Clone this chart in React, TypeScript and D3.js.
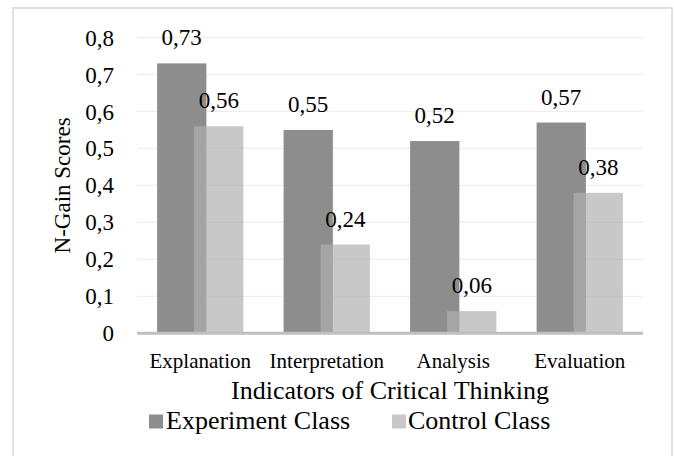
import * as d3 from 'd3';

const categories = ['Explanation', 'Interpretation', 'Analysis', 'Evaluation'];
const experimentValues = [0.73, 0.55, 0.52, 0.57];
const controlValues = [0.56, 0.24, 0.06, 0.38];
const yTicks = [0, 0.1, 0.2, 0.3, 0.4, 0.5, 0.6, 0.7, 0.8];
const yTickLabels = ['0', '0,1', '0,2', '0,3', '0,4', '0,5', '0,6', '0,7', '0,8'];
const seriesNames = ['Experiment Class', 'Control Class'];

const W = 674;
const H = 456;
const FONT = "'Liberation Serif', 'Times New Roman', serif";
const DARK = '#8d8d8d';
const LIGHT = '#afafaf';
const LIGHT_OPACITY = 0.69;

const fmt = (v: number) => v.toFixed(2).replace('.', ',');

export default function App() {
  const plot = { left: 137, right: 643, top: 37.5, bottom: 333.3 };

  const x = d3.scaleBand<string>()
    .domain(categories)
    .range([plot.left, plot.right])
    .paddingInner(0.318)
    .paddingOuter(0.159);

  const y = d3.scaleLinear().domain([0, 0.8]).range([plot.bottom, plot.top]);

  // two bars per group, overlapping a bit (Excel overlap)
  const barW = x.bandwidth() * 0.571;
  const shift = x.bandwidth() - barW;

  const plotMid = (plot.left + plot.right) / 2;

  return (
    <svg
      width={W}
      height={H}
      style={{ position: 'absolute', left: 0, top: 0, background: '#fff' }}
      fontFamily={FONT}
    >
      <rect x={0} y={0} width={W} height={H} fill="#fff" />
      {/* chart frame, bottom edge is off the picture */}
      <path d={`M13,${H + 5} V8 H672 V${H + 5}`} fill="none" stroke="#d9d9d9" strokeWidth={1.5} />

      {/* gridlines */}
      {yTicks.slice(1).map(t => (
        <line key={t} x1={plot.left} x2={plot.right} y1={y(t)} y2={y(t)} stroke="#efefef" strokeWidth={1.3} />
      ))}

      {/* tick labels */}
      {yTicks.map((t, i) => (
        <text key={t} x={114} y={y(t)} dy="0.35em" textAnchor="end" fontSize={23} fill="#000">
          {yTickLabels[i]}
        </text>
      ))}

      {/* bars */}
      {categories.map((c, i) => {
        const x0 = x(c)!;
        return (
          <g key={c}>
            <rect x={x0} y={y(experimentValues[i])} width={barW} height={y(0) - y(experimentValues[i])} fill={DARK} />
            <rect x={x0 + shift} y={y(controlValues[i])} width={barW} height={y(0) - y(controlValues[i])} fill={LIGHT} fillOpacity={LIGHT_OPACITY} />
          </g>
        );
      })}

      {/* baseline */}
      <line x1={plot.left} x2={plot.right} y1={y(0)} y2={y(0)} stroke="#bfbfbf" strokeWidth={3} />

      {/* data labels */}
      {categories.map((c, i) => {
        const x0 = x(c)!;
        return (
          <g key={c} fontSize={23} textAnchor="middle" fill="#000">
            <text x={x0 + barW / 2} y={y(experimentValues[i]) - 18}>{fmt(experimentValues[i])}</text>
            <text x={x0 + shift + barW / 2} y={y(controlValues[i]) - 18}>{fmt(controlValues[i])}</text>
          </g>
        );
      })}

      {/* category labels */}
      {categories.map(c => (
        <text key={c} x={x(c)! + x.bandwidth() / 2} y={368} textAnchor="middle" fontSize={21} fill="#000">
          {c}
        </text>
      ))}

      {/* axis titles */}
      <text x={plotMid} y={399} textAnchor="middle" fontSize={26} fill="#000">
        Indicators of Critical Thinking
      </text>
      <text transform={`translate(70,${(plot.top + plot.bottom) / 2}) rotate(-90)`} textAnchor="middle" fontSize={23} fill="#000">
        N-Gain Scores
      </text>

      {/* legend */}
      <g fontSize={26} fill="#000">
        <rect x={149} y={414.5} width={14} height={14} fill={DARK} />
        <text x={166} y={429}>{seriesNames[0]}</text>
        <rect x={392} y={414.5} width={14} height={14} fill={LIGHT} fillOpacity={LIGHT_OPACITY} />
        <text x={408} y={429}>{seriesNames[1]}</text>
      </g>
    </svg>
  );
}
